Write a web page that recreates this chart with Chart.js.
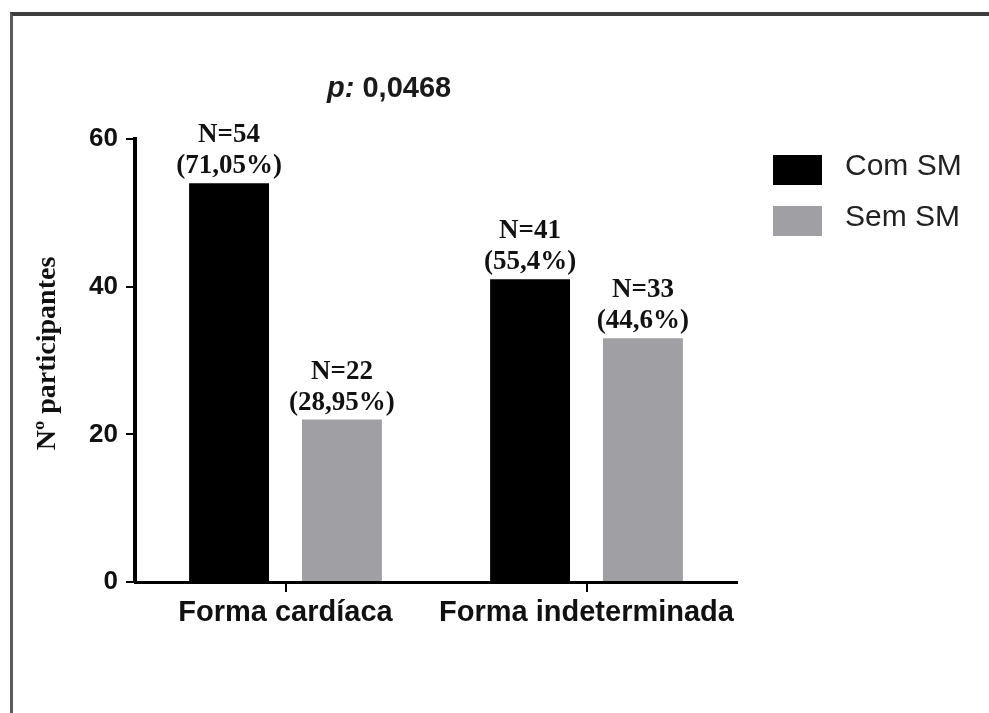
<!DOCTYPE html>
<html>
<head>
<meta charset="utf-8">
<script src="https://cdn.jsdelivr.net/npm/chart.js@4.4.1/dist/chart.umd.min.js"></script>
<style>
  html, body { margin: 0; padding: 0; background: #fff; }
  #wrap { position: relative; width: 989px; height: 713px; overflow: hidden; }
  #frame {
    position: absolute; left: 10px; top: 12px; width: 1100px; height: 800px;
    border-top: 4px solid #3c3c3c; border-left: 3px solid #5c5c5c;
  }
  #chart { position: absolute; left: 0; top: 0; }
</style>
</head>
<body>
<div id="wrap">
  <div id="frame"></div>
  <canvas id="chart" width="989" height="713"></canvas>
</div>
<script>
// Données du graphique
const categories = ['Forma cardíaca', 'Forma indeterminada'];
const seriesLabels = ['Com SM', 'Sem SM'];
const comSM = [54, 41];
const semSM = [22, 33];
const pctComSM = ['71,05%', '55,4%'];
const pctSemSM = ['28,95%', '44,6%'];
const yTicks = [0, 20, 40, 60];
const pValueText = '0,0468';

const pctBySeries = [pctComSM, pctSemSM];

// Étiquettes "N=.." et pourcentages au-dessus des barres
const barLabels = {
    id: 'barLabels',
    afterDatasetsDraw(chart) {
        const ctx = chart.ctx;
        ctx.save();
        ctx.font = 'bold 27px "Liberation Serif", "Times New Roman", serif';
        ctx.fillStyle = '#111';
        ctx.textAlign = 'center';
        ctx.textBaseline = 'alphabetic';
        chart.data.datasets.forEach((ds, i) => {
            const meta = chart.getDatasetMeta(i);
            meta.data.forEach((bar, j) => {
                ctx.fillText('N=' + ds.data[j], bar.x, bar.y - 41);
                ctx.fillText('(' + pctBySeries[i][j] + ')', bar.x, bar.y - 10);
            });
        });
        ctx.restore();
    }
};

// Valeur p au-dessus du graphique
const pValue = {
    id: 'pValue',
    afterDraw(chart) {
        const { ctx, chartArea } = chart;
        ctx.save();
        ctx.fillStyle = '#1a1a1a';
        ctx.textBaseline = 'alphabetic';
        ctx.textAlign = 'left';
        let x = chartArea.left + 0.319 * (chartArea.right - chartArea.left);
        const y = chartArea.top - 42;
        ctx.font = 'italic bold 29px "Liberation Sans", Arial, sans-serif';
        ctx.fillText('p:', x, y);
        x += ctx.measureText('p:').width;
        ctx.font = 'bold 29px "Liberation Sans", Arial, sans-serif';
        ctx.fillText(' ' + pValueText, x, y);
        ctx.restore();
    }
};

// Légende à droite (boîtes + texte)
const sideLegend = {
    id: 'sideLegend',
    afterDraw(chart) {
        const { ctx, chartArea } = chart;
        ctx.save();
        chart.data.datasets.forEach((ds, i) => {
            const bx = chartArea.right + 36;
            const by = chartArea.top + 16 + i * 51;
            ctx.fillStyle = ds.backgroundColor;
            ctx.fillRect(bx, by, 49, 30);
            ctx.font = '30px "Liberation Sans", Arial, sans-serif';
            ctx.fillStyle = '#222';
            ctx.textAlign = 'left';
            ctx.textBaseline = 'middle';
            ctx.fillText(ds.label, bx + 49 + 23, by + 12);
        });
        ctx.restore();
    }
};

const canvas = document.getElementById('chart');

new Chart(canvas, {
    type: 'bar',
    data: {
        labels: categories,
        datasets: [
            {
                label: seriesLabels[0],
                data: comSM,
                backgroundColor: '#000000',
                categoryPercentage: 0.75,
                barPercentage: 0.708
            },
            {
                label: seriesLabels[1],
                data: semSM,
                backgroundColor: '#a0a0a4',
                categoryPercentage: 0.75,
                barPercentage: 0.708
            }
        ]
    },
    options: {
        responsive: false,
        animation: false,
        layout: {
            padding: { top: 139, right: 252, left: 0, bottom: 0 }
        },
        plugins: {
            legend: { display: false },
            tooltip: { enabled: false }
        },
        scales: {
            x: {
                afterFit(scale) { scale.height = 131; },
                border: { display: true, color: '#000', width: 3 },
                grid: {
                    offset: false,
                    drawOnChartArea: false,
                    drawTicks: true,
                    tickLength: 10,
                    color: '#000',
                    lineWidth: 2
                },
                ticks: {
                    color: '#111',
                    padding: 4,
                    font: { family: '"Liberation Sans", Arial, sans-serif', size: 29, weight: 'bold' }
                }
            },
            y: {
                min: 0,
                max: 60,
                afterFit(scale) { scale.width = 135; },
                afterBuildTicks(scale) { scale.ticks = yTicks.map(v => ({ value: v })); },
                border: { display: true, color: '#000', width: 4 },
                grid: {
                    drawOnChartArea: false,
                    drawTicks: true,
                    tickLength: 9,
                    color: '#000',
                    lineWidth: 2
                },
                ticks: {
                    color: '#111',
                    padding: 8,
                    font: { family: '"Liberation Sans", Arial, sans-serif', size: 26, weight: 'bold' }
                },
                title: {
                    display: true,
                    text: '\u00a0\u00a0Nº participantes',
                    color: '#111',
                    padding: { top: 31, bottom: 0 },
                    font: { family: '"Liberation Serif", "Times New Roman", serif', size: 28, weight: 'bold' }
                }
            }
        }
    },
    plugins: [barLabels, pValue, sideLegend]
});
</script>
</body>
</html>
